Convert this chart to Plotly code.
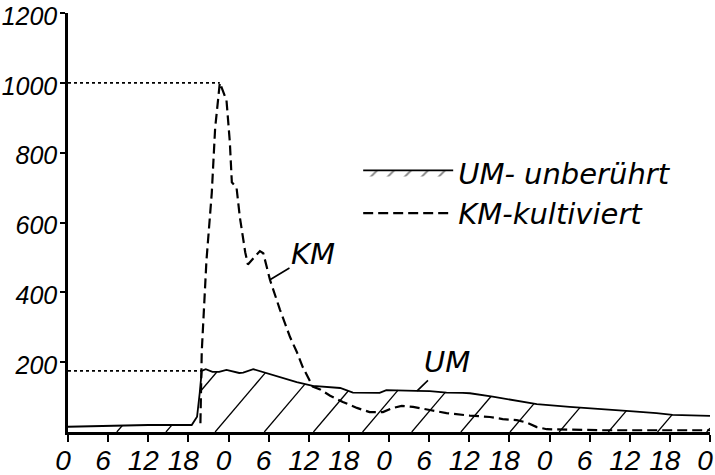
import numpy as np
import plotly.graph_objects as go

# ---- data ----
tick_hours = [0, 6, 12, 18, 24, 30, 36, 42, 48, 54, 60, 66, 72, 78, 84, 90, 96]
tick_text = ["0", "6", "12", "18", "0", "6", "12", "18", "0", "6", "12", "18", "0", "6", "12", "18", "0"]
y_ticks = [200, 400, 600, 800, 1000, 1200]

um_hours = [0, 6, 12, 18.5, 19.3, 19.7, 20.0, 20.6, 21.6, 22.6, 23.7, 25.6, 26.2, 27.7, 29.1,
            31.7, 34.2, 36.6, 38.7, 40.7, 42.6, 45.1, 46.6, 47.6, 50.1, 52.1, 54.1, 56.6, 59.0,
            60.1, 63.5, 66.5, 70.1, 75.0, 80.0, 84.0, 88.0, 90.4, 96]
um_values = [15, 18, 20, 20, 44, 112, 175, 180, 172, 172, 178, 169, 170, 180, 172,
             158, 143, 132, 130, 126, 113, 112, 112, 120, 120, 118, 117, 113, 112,
             111, 101, 92, 80, 72, 66, 60, 54, 49, 46]

km_hours = [19.8, 20.0, 20.7, 21.5, 22.0, 22.7, 23.7, 24.2, 24.5, 25.2, 25.7, 26.5, 26.9, 28.7,
            29.2, 30.2, 31.7, 33.2, 34.2, 35.1, 36.6, 37.7, 39.2, 41.1, 43.2, 45.1, 47.1, 48.6,
            49.9, 51.6, 54.1, 56.6, 60.1, 63.1, 65.0, 67.1, 68.6, 70.1, 71.6, 80, 96]
km_values = [25, 230, 490, 685, 870, 1000, 950, 830, 715, 700, 615, 515, 480, 518,
             512, 436, 350, 272, 230, 186, 130, 122, 104, 86, 69, 57, 57, 69,
             75, 72, 63, 54, 47, 43, 37, 34, 27, 14, 8, 5, 5]

# ---- layout / style ----
W, H = 715, 475
M = dict(l=68, r=5, t=13, b=43)
X_RANGE = [0, 96]
Y_RANGE = [0, 1200]
HATCH_START_H = 7.3      # first hatch line foot (hours)
HATCH_STEP_H = 7.35      # hatch spacing (hours)
HATCH_SLOPE_PX = 1.18    # hatch steepness (pixel dy/dx)

TICK_FONT_X = dict(family="Liberation Sans, Arial, sans-serif", size=28, color="black", style="italic")
TICK_FONT_Y = dict(family="Liberation Sans, Arial, sans-serif", size=25, color="black", style="italic")
TEXT_FONT = dict(family="DejaVu Sans, sans-serif", size=29, color="black", style="italic")

# ---- hatch lines clipped to the area under the UM curve ----
px_per_h = (W - M["l"] - M["r"]) / (X_RANGE[1] - X_RANGE[0])
px_per_v = (H - M["t"] - M["b"]) / (Y_RANGE[1] - Y_RANGE[0])
slope = HATCH_SLOPE_PX * px_per_h / px_per_v  # value units per hour
hx, hy = [], []
for x0 in np.arange(HATCH_START_H, X_RANGE[1], HATCH_STEP_H):
    t = np.linspace(x0, x0 + max(um_values) / slope, 600)
    y = slope * (t - x0)
    inside = (t <= X_RANGE[1]) & (y <= np.interp(t, um_hours, um_values))
    idx = np.flatnonzero(inside)
    if idx.size == 0:
        continue
    runs = np.split(idx, np.flatnonzero(np.diff(idx) > 1) + 1)
    for r in runs:
        hx += [t[r[0]], t[r[-1]], None]
        hy += [y[r[0]], y[r[-1]], None]

fig = go.Figure()

fig.add_trace(go.Scatter(x=hx, y=hy, mode="lines", showlegend=False, hoverinfo="skip",
                         line=dict(color="black", width=1.3)))
fig.add_trace(go.Scatter(
    x=um_hours, y=um_values, mode="lines", name="UM- unberührt", showlegend=False,
    line=dict(color="black", width=1.8),
))
# legend entry for the hatched UM area
fig.add_trace(go.Scatter(
    x=[None], y=[None], mode="lines", name="UM- unberührt",
    line=dict(color="black", width=1.8),
    fill="tozeroy", fillcolor="rgba(0,0,0,0)",
    fillpattern=dict(shape="/", fgcolor="black", bgcolor="rgba(0,0,0,0)",
                     size=12, solidity=0.15, fillmode="overlay"),
))
fig.add_trace(go.Scatter(
    x=km_hours, y=km_values, mode="lines", name="KM-kultiviert",
    line=dict(color="black", width=2.2, dash="10px,5px"),
))

# dotted guide lines to the peaks
km_i = int(np.argmax(km_values))
um_i = int(np.argmax(np.array(um_values) >= 170))
for h, v in [(km_hours[km_i], km_values[km_i]), (um_hours[um_i], um_values[um_i])]:
    fig.add_trace(go.Scatter(x=[0, h], y=[v, v], mode="lines", showlegend=False,
                             line=dict(color="black", width=1.6, dash="dot")))

# curve labels
fig.add_annotation(x=30.2, y=436, ax=43, ay=-26, text="KM", showarrow=True,
                   arrowhead=0, arrowwidth=1.6, arrowcolor="black", standoff=0,
                   font=TEXT_FONT)
fig.add_annotation(x=52.2, y=118, ax=30, ay=-29, text="UM", showarrow=True,
                   arrowhead=0, arrowwidth=1.6, arrowcolor="black", standoff=0,
                   font=TEXT_FONT)

fig.update_layout(
    width=W, height=H,
    margin=M,
    paper_bgcolor="white", plot_bgcolor="white",
    showlegend=True,
    legend=dict(x=0.452, y=0.68, xanchor="left", yanchor="top",
                bgcolor="rgba(0,0,0,0)", font=TEXT_FONT, itemwidth=90,
                tracegroupgap=0),
)
fig.update_xaxes(range=X_RANGE, tickvals=tick_hours, ticktext=tick_text,
                 showgrid=False, zeroline=False, showline=True, linecolor="black",
                 linewidth=2.5, ticks="outside", ticklen=7, tickwidth=2,
                 tickcolor="black", tickfont=TICK_FONT_X, automargin=False,
                 ticklabelstandoff=-5, ticklabelshift=-5, ticklabeloverflow="allow")
fig.update_yaxes(range=Y_RANGE, tickvals=y_ticks,
                 showgrid=False, zeroline=False, showline=True, linecolor="black",
                 linewidth=2.5, ticks="outside", ticklen=5, tickwidth=2,
                 tickcolor="black", tickfont=TICK_FONT_Y, automargin=False,
                 ticklabelstandoff=-2, ticklabelshift=3, ticklabeloverflow="allow")

# remove the browser's default 8px body margin so the figure fills the window
fig.write_html("out.html", config={"displayModeBar": False},
               post_script="document.body.style.margin='0px';")
